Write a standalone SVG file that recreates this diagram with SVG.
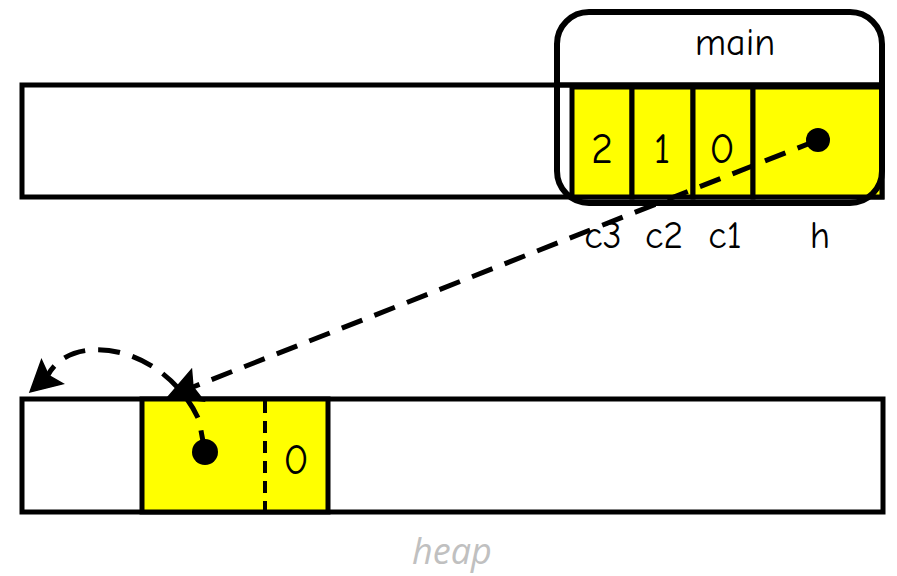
<svg xmlns="http://www.w3.org/2000/svg" width="897" height="576" viewBox="0 0 897 576">
  <defs>
    <style>
      .bar { fill: #ffffff; stroke: #000; stroke-width: 5; }
      .cell { fill: #ffff00; stroke: #000; stroke-width: 5; }
      .lbl { font-family: "Comic Neue", "DejaVu Sans", sans-serif; font-size: 38px; fill: #000; text-anchor: middle; }
      .num { font-size: 42px; }
      .ptr { fill: none; stroke: #000; stroke-width: 5; stroke-dasharray: 22 13; }
      .head { fill: #000; stroke: #000; stroke-width: 1.5; stroke-linejoin: miter; }
    </style>
  </defs>

  <!-- stack strip -->
  <g id="stack">
    <rect class="bar" x="22" y="85" width="860" height="112"/>
  </g>

  <!-- main frame with locals -->
  <g id="main">
    <rect class="cell" x="572" y="87" width="60" height="110"/>
    <rect class="cell" x="632" y="87" width="61" height="110"/>
    <rect class="cell" x="693" y="87" width="60" height="110"/>
    <rect class="cell" x="753" y="87" width="129" height="110"/>
    <text class="lbl num" x="602" y="163">2</text>
    <text class="lbl num" x="662" y="163">1</text>
    <text class="lbl num" x="722" y="163">0</text>
    <circle cx="818" cy="140" r="12" fill="#000"/>
    <rect x="557" y="12" width="325" height="191" rx="32" ry="32" fill="none" stroke="#000" stroke-width="6"/>
    <line x1="557" y1="85" x2="882" y2="85" stroke="#000" stroke-width="5"/>
    <text class="lbl" x="735" y="55" font-size="32">main</text>
    <text class="lbl" x="603" y="248">c3</text>
    <text class="lbl" x="664" y="248">c2</text>
    <text class="lbl" x="725" y="248">c1</text>
    <text class="lbl" x="820" y="248">h</text>
  </g>

  <!-- heap strip -->
  <g id="heap">
    <rect class="bar" x="22" y="399" width="861" height="113"/>
    <rect class="cell" x="142" y="399" width="186" height="113"/>
    <line x1="265" y1="401" x2="265" y2="510" stroke="#000" stroke-width="4" stroke-dasharray="12 8"/>
    <circle cx="205" cy="452" r="13" fill="#000"/>
    <text class="lbl num" x="296" y="474">0</text>
    <text x="452" y="564" font-family="'Open Sans', 'Liberation Sans', sans-serif" font-style="italic" font-size="36" fill="#c0c0c0" text-anchor="middle">heap</text>
  </g>

  <!-- pointers -->
  <g id="connectors">
    <path class="ptr" d="M818,140 L193,387"/>
    <path class="head" d="M168,397 L191.5,369.5 L193,387 L204,401 Z"/>
    <path class="ptr" d="M205,452 L199,420 C165,345 72,330 48,375"/>
    <path class="head" d="M30,392 L41.5,360 L48.5,375.3 L63,383.7 Z"/>
  </g>
</svg>
